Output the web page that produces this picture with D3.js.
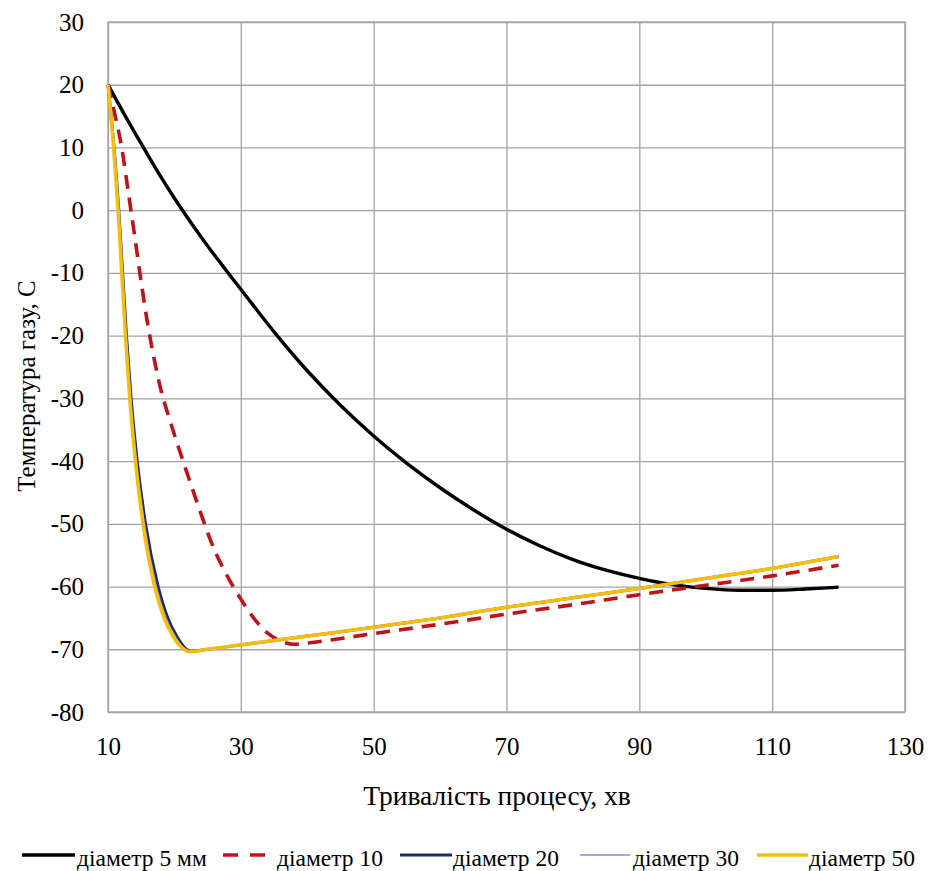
<!DOCTYPE html>
<html>
<head>
<meta charset="utf-8">
<script src="https://cdn.jsdelivr.net/npm/d3@7"></script>
<style>
  html, body { margin: 0; padding: 0; background: #fff; }
  svg { display: block; }
  svg text { font-family: "Liberation Serif", Tinos, "Times New Roman", "DejaVu Serif", serif; }
</style>
</head>
<body>
<svg id="chart" width="928" height="871"></svg>
<script>
// Process duration, min, and gas temperature, °C, for each tube diameter
const minutes5 = [10, 12.5, 15, 17.5, 20, 22.5, 25, 27.5, 30, 35, 40, 45, 50, 55, 60, 65, 70, 75, 80, 85, 90, 95, 100, 105, 110, 115, 120];
const temp5 = [20, 15.2, 10.6, 6.1, 1.9, -2.0, -5.7, -9.2, -12.6, -19.4, -25.6, -31.1, -36.0, -40.35, -44.25, -47.75, -50.85, -53.5, -55.7, -57.4, -58.7, -59.7, -60.3, -60.6, -60.6, -60.4, -60.1];

const minutes10 = [10, 11, 12, 13, 14, 15, 16, 17, 18, 19, 20, 22, 24, 26, 28, 30, 32, 34, 36, 38, 40, 50, 60, 70, 80, 90, 100, 110, 120];
const temp10 = [20, 15.4, 10.4, 3.3, -4.0, -11.5, -18.3, -24.0, -28.8, -32.4, -35.8, -42.2, -48.4, -54.1, -58.4, -62.0, -65.1, -67.4, -68.7, -69.2, -69.0, -67.5, -66.0, -64.4, -62.9, -61.3, -59.8, -58.3, -56.6];

const minutes20 = [10, 10.9, 11.62, 12.2, 12.78, 13.48, 14.4, 15.65, 17.55, 19.0, 20.4, 21.7, 22.5, 25, 30, 40, 50, 60, 70, 80, 90, 100, 110, 120];
const temp20 = [20, 10, 0, -10, -20, -30, -40, -50, -60, -65, -68, -69.9, -70.3, -70.0, -69.3, -67.9, -66.5, -65.0, -63.3, -61.8, -60.3, -58.7, -57.1, -55.2];

const minutes30 = [10, 10.87, 11.57, 12.14, 12.7, 13.38, 14.27, 15.47, 17.3, 18.75, 20.15, 21.5, 22.4, 25, 30, 40, 50, 60, 70, 80, 90, 100, 110, 120];
const temp30 = [20, 10, 0, -10, -20, -30, -40, -50, -60, -65, -68, -69.9, -70.35, -70.0, -69.3, -67.9, -66.5, -65.0, -63.3, -61.8, -60.3, -58.7, -57.1, -55.2];

const minutes50 = [10, 10.85, 11.53, 12.08, 12.63, 13.28, 14.13, 15.28, 17.03, 18.45, 19.85, 21.3, 22.3, 25, 30, 40, 50, 60, 70, 80, 90, 100, 110, 120];
const temp50 = [20, 10, 0, -10, -20, -30, -40, -50, -60, -65, -68, -69.9, -70.4, -70.0, -69.3, -67.9, -66.5, -65.0, -63.3, -61.8, -60.3, -58.7, -57.1, -55.2];

const seriesNames = ["діаметр 5 мм", "діаметр 10", "діаметр 20", "діаметр 30", "діаметр 50"];
const xTicks = [10, 30, 50, 70, 90, 110, 130];
const yTicks = [-80, -70, -60, -50, -40, -30, -20, -10, 0, 10, 20, 30];
const xTitle = "Тривалість процесу, хв";
const yTitle = "Температура газу, С";

const series = [
  { name: seriesNames[0], xs: minutes5,  ys: temp5,  color: "#000000", width: 3.4, dash: null },
  { name: seriesNames[1], xs: minutes10, ys: temp10, color: "#c0121b", width: 3.6, dash: "14,9" },
  { name: seriesNames[2], xs: minutes20, ys: temp20, color: "#1a2a6c", width: 3.0, dash: null },
  { name: seriesNames[3], xs: minutes30, ys: temp30, color: "#8c88c4", width: 1.4, dash: null },
  { name: seriesNames[4], xs: minutes50, ys: temp50, color: "#f4bd12", width: 3.6, dash: null }
];

const svg = d3.select("#chart");
const plot = { left: 108, right: 905, top: 22, bottom: 712 };

const x = d3.scaleLinear().domain([10, 130]).range([plot.left, plot.right]);
const y = d3.scaleLinear().domain([-80, 30]).range([plot.bottom, plot.top]);

const gridColor = "#a3a3a3";
const fmt = d => String(d); // plain hyphen-minus for negatives

// vertical grid + bottom tick labels
const xAxis = svg.append("g")
  .attr("transform", `translate(0,${plot.bottom})`)
  .call(d3.axisBottom(x).tickValues(xTicks).tickFormat(fmt)
    .tickSize(-(plot.bottom - plot.top)).tickPadding(25));
xAxis.attr("font-family", null);
xAxis.select(".domain").remove();
xAxis.selectAll(".tick line").attr("stroke", gridColor).attr("stroke-width", 1.3);
xAxis.selectAll(".tick text").attr("font-size", 25).attr("fill", "#000");

// horizontal grid + left tick labels
const yAxis = svg.append("g")
  .attr("transform", `translate(${plot.left},0)`)
  .call(d3.axisLeft(y).tickValues(yTicks).tickFormat(fmt)
    .tickSize(-(plot.right - plot.left)).tickPadding(24));
yAxis.attr("font-family", null);
yAxis.select(".domain").remove();
yAxis.selectAll(".tick line").attr("stroke", gridColor).attr("stroke-width", 1.3);
yAxis.selectAll(".tick text").attr("font-size", 25).attr("fill", "#000");

// plot frame
svg.append("rect")
  .attr("x", plot.left).attr("y", plot.top)
  .attr("width", plot.right - plot.left).attr("height", plot.bottom - plot.top)
  .attr("fill", "none").attr("stroke", gridColor).attr("stroke-width", 1.3);

// curves
const line = d3.line()
  .x(d => x(d[0]))
  .y(d => y(d[1]))
  .curve(d3.curveMonotoneX);

svg.append("g").selectAll("path")
  .data(series)
  .join("path")
  .attr("d", s => line(s.xs.map((v, i) => [v, s.ys[i]])))
  .attr("fill", "none")
  .attr("stroke", s => s.color)
  .attr("stroke-width", s => s.width)
  .attr("stroke-dasharray", s => s.dash)
  .attr("stroke-linejoin", "round")
  .attr("stroke-linecap", "butt");

// axis titles
svg.append("text")
  .attr("x", 497).attr("y", 805)
  .attr("text-anchor", "middle")
  .attr("font-size", 27.5)
  .text(xTitle);

svg.append("text")
  .attr("transform", "translate(35,386) rotate(-90)")
  .attr("text-anchor", "middle")
  .attr("font-size", 25)
  .text(yTitle);

// legend
const legendPos = [
  { x0: 22, x1: 75, tx: 77 },
  { x0: 223, x1: 267, tx: 277 },
  { x0: 400, x1: 452, tx: 453 },
  { x0: 580, x1: 630, tx: 633 },
  { x0: 757, x1: 808, tx: 809 }
];
const legend = svg.append("g");
series.forEach((s, i) => {
  const p = legendPos[i];
  legend.append("line")
    .attr("x1", p.x0).attr("x2", p.x1)
    .attr("y1", 855).attr("y2", 855)
    .attr("stroke", s.color)
    .attr("stroke-width", s.width)
    .attr("stroke-dasharray", s.dash ? "15,12" : null);
  legend.append("text")
    .attr("x", p.tx).attr("y", 866)
    .attr("font-size", 23.5)
    .text(s.name);
});
</script>
</body>
</html>
